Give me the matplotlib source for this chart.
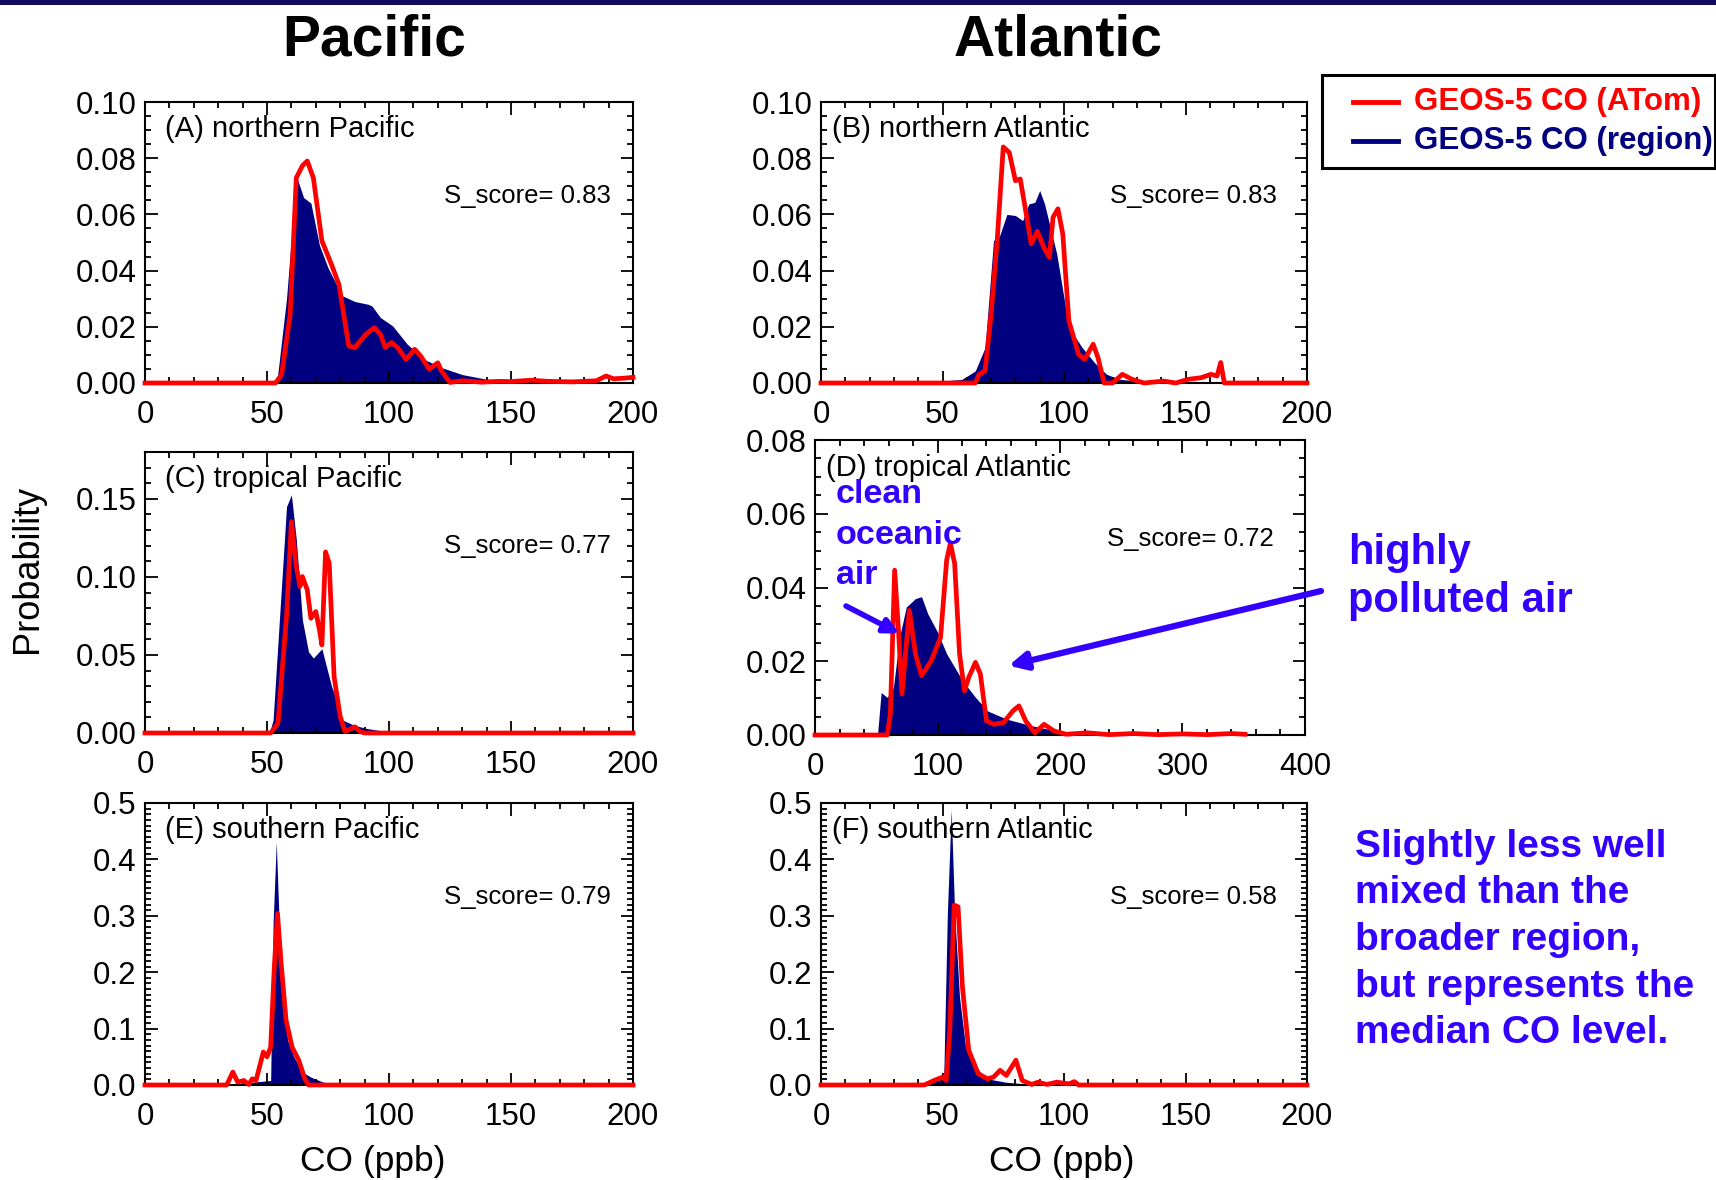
import numpy as np
import matplotlib.pyplot as plt
from matplotlib.patches import Rectangle
from matplotlib.lines import Line2D
from matplotlib.ticker import MultipleLocator, FormatStrFormatter

plt.rcParams['font.family'] = ['Liberation Sans', 'DejaVu Sans']

NAVY = '#000080'
RED = '#ff0000'
NOTE_BLUE = '#3300ff'

# CO probability distributions, GEOS-5 sampled along ATom track vs whole region
A_region_x = [0, 54, 58, 62, 65, 68, 71.5, 75, 78.5, 81, 86, 91.5, 93, 96.5, 101.5, 107.5, 114.5, 121.5, 130, 139, 147, 165, 175, 200]
A_region_y = [0, 0, 0.03, 0.0737, 0.066, 0.064, 0.049, 0.041, 0.035, 0.031, 0.029, 0.028, 0.0274, 0.0233, 0.0203, 0.0138, 0.0084, 0.0055, 0.003, 0.0015, 0.0007, 0.0002, 0, 0]
A_atom_x = [0, 53.5, 56, 59.5, 62, 64.5, 66.5, 69, 72.5, 76.5, 79.5, 83.5, 86, 90.5, 94, 96.5, 98.5, 101, 103.5, 107, 110.5, 113, 116.5, 120, 121.5, 125, 130, 138, 145, 150, 158, 165, 175, 185, 189, 192, 196, 200]
A_atom_y = [0, 0, 0.003, 0.0245, 0.073, 0.0773, 0.079, 0.073, 0.0506, 0.042, 0.035, 0.0132, 0.0126, 0.0173, 0.0197, 0.0173, 0.0126, 0.0144, 0.0126, 0.0084, 0.012, 0.0096, 0.0049, 0.0072, 0.0043, 0.0002, 0.0008, 0.0003, 0.0006, 0.0005, 0.001, 0.0006, 0.0004, 0.0008, 0.0025, 0.0015, 0.0017, 0.002]

B_region_x = [0, 45, 50, 58, 63.5, 67.5, 71, 73.5, 76.5, 80, 83, 85.5, 88, 90, 92, 97, 102, 107.5, 112.5, 117.5, 123, 133, 156, 165, 200]
B_region_y = [0, 0, 0.0007, 0.0013, 0.0043, 0.0126, 0.0507, 0.0524, 0.060, 0.0596, 0.0578, 0.0637, 0.0643, 0.0685, 0.0637, 0.046, 0.0197, 0.0126, 0.0073, 0.0031, 0.0013, 0.0005, 0.0001, 0, 0]
B_atom_x = [0, 63.5, 65, 67.5, 70, 72.5, 75, 77.5, 80, 82, 84, 86.5, 89, 92, 94, 95.5, 97.5, 99.5, 102, 106, 108.5, 112, 114, 116.5, 120, 124, 128, 133, 141, 146, 151, 156.5, 160.5, 163, 164.5, 166, 200]
B_atom_y = [0, 0, 0.003, 0.0043, 0.0245, 0.0507, 0.084, 0.082, 0.072, 0.0726, 0.0625, 0.0495, 0.054, 0.0477, 0.0447, 0.059, 0.062, 0.053, 0.0221, 0.0102, 0.0084, 0.0138, 0.009, 0, 0, 0.0031, 0.0013, 0, 0.0007, 0, 0.0013, 0.0019, 0.0031, 0.0025, 0.0073, 0, 0]

C_region_x = [0, 51, 52.5, 58, 60, 62, 64.5, 67, 69, 72.5, 74, 76.5, 79.5, 81, 85.5, 90.5, 99, 110, 200]
C_region_y = [0, 0, 0.0083, 0.145, 0.1526, 0.124, 0.0724, 0.052, 0.048, 0.054, 0.0447, 0.0297, 0.0169, 0.0083, 0.0051, 0.003, 0.0009, 0, 0]
C_atom_x = [0, 51.5, 54.5, 58, 60, 62, 63.5, 64.5, 66.5, 68, 70, 71.5, 72.5, 74, 75.5, 77.5, 80, 82, 83.5, 86, 88, 90, 200]
C_atom_y = [0, 0, 0.0062, 0.0746, 0.1355, 0.1066, 0.0938, 0.1002, 0.0917, 0.0735, 0.0778, 0.066, 0.0564, 0.116, 0.1088, 0.0361, 0.0105, 0.0009, 0.002, 0.004, 0.001, 0, 0]

D_region_x = [0, 51, 54, 59, 64, 69, 74.5, 82, 87, 92, 100, 107.5, 120.5, 131, 141, 156.5, 177, 197.5, 218, 264, 300, 400]
D_region_y = [0, 0, 0.0115, 0.0102, 0.0129, 0.0265, 0.0347, 0.037, 0.0375, 0.0329, 0.0279, 0.022, 0.0147, 0.0102, 0.0065, 0.0043, 0.0025, 0.0011, 0.0006, 0.0002, 0, 0]
D_atom_x = [0, 59, 61.5, 65, 68, 71, 77, 82, 87, 95, 102.5, 107.5, 110.5, 114, 118, 122, 125.5, 131, 135, 140, 146, 154, 161.5, 166.5, 172, 179.5, 187, 195, 205, 222, 240, 260, 280, 300, 320, 340, 351]
D_atom_y = [0, 0, 0.0056, 0.0447, 0.0293, 0.0111, 0.0338, 0.022, 0.0161, 0.0202, 0.0265, 0.0475, 0.052, 0.0465, 0.022, 0.012, 0.0156, 0.0197, 0.0165, 0.0038, 0.0029, 0.0034, 0.0065, 0.0079, 0.0038, 0.0006, 0.0029, 0.0011, 0.0002, 0.0006, 0.0001, 0.0004, 0.0001, 0.0003, 0.0001, 0.0004, 0.0002]

E_region_x = [0, 40, 44, 51.5, 52.5, 53.8, 55, 56, 58.5, 61, 64.5, 68, 73, 78.5, 85, 200]
E_region_y = [0, 0, 0.005, 0.008, 0.286, 0.431, 0.286, 0.174, 0.079, 0.05, 0.023, 0.014, 0.005, 0.001, 0, 0]
E_atom_x = [0, 33.5, 36, 38, 40.5, 42.5, 44, 45.5, 48.5, 50, 51.5, 53, 54.3, 55.7, 57.8, 60.3, 63, 65.5, 67, 200]
E_atom_y = [0, 0, 0.023, 0.005, 0.008, 0.001, 0.011, 0.008, 0.0586, 0.05, 0.067, 0.21, 0.304, 0.221, 0.115, 0.067, 0.044, 0.011, 0, 0]

F_region_x = [0, 27, 45, 50.5, 52, 53.6, 55, 57, 59.5, 63.5, 68.5, 76, 86.5, 95, 200]
F_region_y = [0, 0.001, 0.005, 0.011, 0.304, 0.488, 0.304, 0.156, 0.067, 0.032, 0.011, 0.005, 0.001, 0, 0]
F_atom_x = [0, 42.5, 46.5, 50, 51.5, 53, 54.8, 56.4, 58.2, 60.8, 64.7, 68.5, 71, 73.7, 76.3, 80.2, 82.8, 86.7, 89.3, 93, 97, 102, 104.3, 106, 200]
F_atom_y = [0, 0, 0.008, 0.014, 0.008, 0.097, 0.319, 0.316, 0.174, 0.0615, 0.02, 0.011, 0.014, 0.026, 0.017, 0.044, 0.008, 0.001, 0.005, 0.001, 0.005, 0.002, 0.006, 0, 0]

panel_names = ['(A) northern Pacific', '(B) northern Atlantic', '(C) tropical Pacific',
               '(D) tropical Atlantic', '(E) southern Pacific', '(F) southern Atlantic']
s_scores = [0.83, 0.83, 0.77, 0.72, 0.79, 0.58]

W, H = 1716, 1180
fig = plt.figure(figsize=(W / 100, H / 100), dpi=100)


def box(left, top, right, bottom):
    # pixel box -> figure fraction rect
    return [left / W, 1 - bottom / H, (right - left) / W, (bottom - top) / H]


def panel(rect, xr, yr, xa, ya, name, score, xmax, ymax, xmaj, xmin, ymaj, ymin, fmt, lx, sx):
    ax = fig.add_axes(rect)
    ax.fill_between(xr, yr, 0, color=NAVY, lw=0)
    ax.plot(xa, ya, color=RED, lw=3.4, clip_on=False, zorder=3)
    ax.set_xlim(0, xmax)
    ax.set_ylim(0, ymax)
    ax.xaxis.set_major_locator(MultipleLocator(xmaj))
    ax.xaxis.set_minor_locator(MultipleLocator(xmin))
    ax.yaxis.set_major_locator(MultipleLocator(ymaj))
    ax.yaxis.set_minor_locator(MultipleLocator(ymin))
    ax.yaxis.set_major_formatter(FormatStrFormatter(fmt))
    ax.tick_params(which='both', direction='in', top=True, right=True, width=1.3)
    ax.tick_params(which='major', length=9)
    ax.tick_params(which='minor', length=4)
    ax.tick_params(axis='x', labelsize=22.5, pad=12)
    ax.tick_params(axis='y', labelsize=22.5, pad=6)
    for s in ax.spines.values():
        s.set_linewidth(1.5)
    ax.text(lx, 0.905, name, transform=ax.transAxes, fontsize=21, va='center', ha='left')
    ax.text(sx, 0.665, f'S_score= {score:.2f}', transform=ax.transAxes,
            fontsize=18.5, va='center', ha='right')
    return ax


axA = panel(box(145, 102, 633, 383), A_region_x, A_region_y, A_atom_x, A_atom_y,
            panel_names[0], s_scores[0], 200, 0.1, 50, 10, 0.02, 0.005, '%.2f', 0.04, 0.955)
axB = panel(box(821, 102, 1307, 383), B_region_x, B_region_y, B_atom_x, B_atom_y,
            panel_names[1], s_scores[1], 200, 0.1, 50, 10, 0.02, 0.005, '%.2f', 0.023, 0.937)
axC = panel(box(145, 452, 633, 733), C_region_x, C_region_y, C_atom_x, C_atom_y,
            panel_names[2], s_scores[2], 200, 0.18, 50, 10, 0.05, 0.01, '%.2f', 0.04, 0.955)
axD = panel(box(815, 440, 1305, 735), D_region_x, D_region_y, D_atom_x, D_atom_y,
            panel_names[3], s_scores[3], 400, 0.08, 100, 20, 0.02, 0.005, '%.2f', 0.023, 0.937)
axE = panel(box(145, 803, 633, 1085), E_region_x, E_region_y, E_atom_x, E_atom_y,
            panel_names[4], s_scores[4], 200, 0.5, 50, 10, 0.1, 0.01, '%.1f', 0.04, 0.955)
axF = panel(box(821, 803, 1307, 1085), F_region_x, F_region_y, F_atom_x, F_atom_y,
            panel_names[5], s_scores[5], 200, 0.5, 50, 10, 0.1, 0.01, '%.1f', 0.023, 0.937)

# column headers and shared labels
fig.text(374 / W, 1 - 41 / H, 'Pacific', fontsize=41, fontweight='bold', ha='center', va='center')
fig.text(1058 / W, 1 - 41 / H, 'Atlantic', fontsize=41, fontweight='bold', ha='center', va='center')
fig.text(27 / W, 1 - 569 / H, 'Probability', fontsize=26, rotation=90, ha='center', va='center')
fig.text(373 / W, 1 - 1162 / H, 'CO (ppb)', fontsize=25.5, ha='center', va='center')
fig.text(1062 / W, 1 - 1162 / H, 'CO (ppb)', fontsize=25.5, ha='center', va='center')

# thin dark bar along the top edge
fig.add_artist(Rectangle((0, 1 - 5 / H), 1, 5 / H, transform=fig.transFigure,
                         facecolor='#120d5e', edgecolor='none'))

# legend box
fig.add_artist(Rectangle((1322 / W, 1 - 168 / H), (W - 1 - 1322) / W, 93 / H,
                         transform=fig.transFigure, facecolor='white',
                         edgecolor='black', lw=2.2))
for yy, col, lab in [(102, RED, 'GEOS-5 CO (ATom)'), (141, NAVY, 'GEOS-5 CO (region)')]:
    fig.add_artist(Line2D([1353 / W, 1398 / W], [1 - yy / H, 1 - yy / H],
                          transform=fig.transFigure, color=col, lw=3.5))
    fig.text(1414 / W, 1 - yy / H, lab, color=col, fontsize=22.5, fontweight='bold',
             ha='left', va='center')

# annotations on the tropical Atlantic panel
fig.text(836 / W, 1 - 535 / H, 'clean\noceanic\nair', color=NOTE_BLUE, fontsize=24.5,
         fontweight='bold', ha='left', va='center', linespacing=1.40)
axD.annotate('', xy=(69, 0.0275), xytext=(846, H - 606), textcoords='figure pixels',
             arrowprops=dict(arrowstyle='-|>', color=NOTE_BLUE, lw=4, mutation_scale=22,
                             shrinkA=0, shrinkB=0))
fig.text(1348 / W, 1 - 577 / H, 'highly\npolluted air', color=NOTE_BLUE, fontsize=30,
         fontweight='bold', ha='left', va='center', linespacing=1.26)
axD.annotate('', xy=(158, 0.0188), xytext=(1321, H - 591), textcoords='figure pixels',
             arrowprops=dict(arrowstyle='-|>', color=NOTE_BLUE, lw=4.5, mutation_scale=26,
                             shrinkA=0, shrinkB=0), annotation_clip=False)

fig.text(1355 / W, 1 - 940 / H,
         'Slightly less well\nmixed than the\nbroader region,\nbut represents the\nmedian CO level.',
         color=NOTE_BLUE, fontsize=28, fontweight='bold', ha='left', va='center',
         linespacing=1.38)

plt.savefig('out.png', dpi=100)
